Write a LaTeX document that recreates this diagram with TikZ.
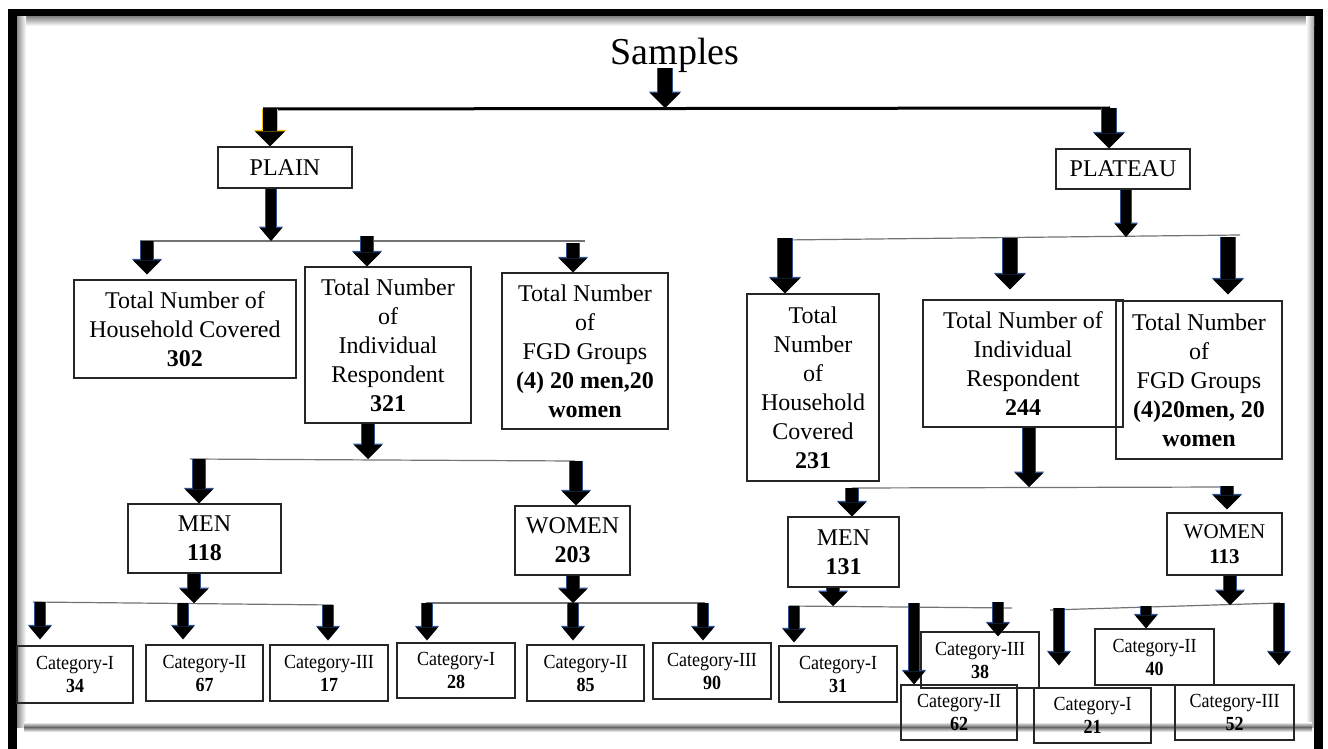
\documentclass[tikz,border=0pt]{standalone}
\usepackage{fontspec}
\setmainfont{Liberation Serif}
\newfontfamily\catfont{Liberation Serif}[FakeStretch=0.9]
\usetikzlibrary{arrows.meta}

\definecolor{arrowedge}{RGB}{47,82,143}
\definecolor{goldedge}{RGB}{255,192,0}

\tikzset{
  box/.style={draw=black!85, line width=0.7pt, align=center, inner sep=1pt, font=\fontsize{12}{14.5}\selectfont},
  catbox/.style={box, font=\catfont\fontsize{10}{11.5}\selectfont},
  branch/.style={draw=black!55, line width=0.6pt},
  bigarrow/.style={line width=7pt, -{Triangle[width=15pt,length=7.5pt,line width=0pt]},
    preaction={draw=#1, line width=7.8pt, -{Triangle[width=16.2pt,length=8.2pt,line width=0pt]}}},
  bigarrow/.default=arrowedge,
  midarrow/.style={line width=6pt, -{Triangle[width=14pt,length=7pt,line width=0pt]},
    preaction={draw=arrowedge, line width=6.8pt, -{Triangle[width=15.2pt,length=7.7pt,line width=0pt]}}},
  thinarrow/.style={line width=5pt, -{Triangle[width=11pt,length=6.5pt,line width=0pt]},
    preaction={draw=arrowedge, line width=5.8pt, -{Triangle[width=12.2pt,length=7.2pt,line width=0pt]}}}
}

\begin{document}
\begin{tikzpicture}[x=0.5pt,y=-0.5pt]
\useasboundingbox (0,0) rectangle (1328,749);

% frame with its shadow
\fill[black] (8,9) rectangle (1323,17);
\fill[black] (8,9) rectangle (17,749);
\fill[black] (1314,9) rectangle (1323,749);
\shade[top color=black!45, bottom color=white] (17,17) rectangle (1314,26);
\shade[left color=black!45, right color=white] (17,17) rectangle (26,727);
\shade[left color=white, right color=black!35] (1306,17) rectangle (1314,727);
\shade[top color=white, bottom color=white, middle color=black!60] (24,722) rectangle (1312,732);

\node[font=\fontsize{19}{22}\selectfont, anchor=base, inner sep=0pt] (samples) at (675,65) {Samples};

\node[box, minimum width=67pt, minimum height=20.5pt] (plain) at (285,167.5) {PLAIN};
\node[box, minimum width=67pt, minimum height=20pt] (plateau) at (1123,169) {PLATEAU};

%%%%%%%%%%%%%%% plain
\node[box, minimum width=111pt, minimum height=49pt] (plainHH) at (185,329) {Total Number of\\Household Covered\\\textbf{302}};
\node[box, minimum width=83pt, minimum height=78pt] (plainIR) at (388,345) {Total Number\\of\\Individual\\Respondent\\\textbf{321}};
\node[box, minimum width=83pt, minimum height=78pt] (plainFGD) at (585,351) {Total Number\\of\\FGD Groups\\\textbf{(4) 20 men,20}\\\textbf{women}};

\node[box, minimum width=76.5pt, minimum height=34.5pt] (plainMen) at (204.5,538.5) {MEN\\\textbf{118}};
\node[box, minimum width=57.5pt, minimum height=34.5pt] (plainWomen) at (572.5,540.5) {WOMEN\\\textbf{203}};

\node[catbox, minimum width=58pt, minimum height=28.5pt] (pm1) at (75,674.5) {Category-I\\\textbf{34}};
\node[catbox, minimum width=58.5pt, minimum height=28pt] (pm2) at (204.5,673) {Category-II\\\textbf{67}};
\node[catbox, minimum width=59pt, minimum height=28pt] (pm3) at (329,673) {Category-III\\\textbf{17}};
\node[catbox, minimum width=59pt, minimum height=27.5pt] (pw1) at (456,670.5) {Category-I\\\textbf{28}};
\node[catbox, minimum width=58.5pt, minimum height=28pt] (pw2) at (585.5,673) {Category-II\\\textbf{85}};
\node[catbox, minimum width=59pt, minimum height=28pt] (pw3) at (712,671) {Category-III\\\textbf{90}};

%%%%%%%%%%%%%%% plateau
\node[box, minimum width=66pt, minimum height=93.5pt] (platHH) at (813,387.5) {Total\\Number\\of\\Household\\Covered\\\textbf{231}};
\node[box, minimum width=100pt, minimum height=63.5pt] (platIR) at (1023,363.5) {Total Number of\\Individual\\Respondent\\\textbf{244}};
\node[box, minimum width=83pt, minimum height=79pt] (platFGD) at (1199,380) {Total Number\\of\\FGD Groups\\\textbf{(4)20men, 20}\\\textbf{women}};

\node[box, minimum width=55.5pt, minimum height=35pt] (platMen) at (843.5,552) {MEN\\\textbf{131}};
\node[box, minimum width=57.5pt, minimum height=31pt, font=\fontsize{10.5}{12.5}\selectfont] (platWomen) at (1224.5,544) {WOMEN\\\textbf{113}};

\node[catbox, minimum width=59pt, minimum height=28pt] (qm1) at (838,674) {Category-I\\\textbf{31}};
\node[catbox, minimum width=59pt, minimum height=28pt] (qm3) at (980,660) {Category-III\\\textbf{38}};
\node[catbox, minimum width=58pt, minimum height=27.5pt] (qm2) at (959,712.5) {Category-II\\\textbf{62}};
\node[catbox, minimum width=59.5pt, minimum height=28pt] (qw2) at (1154.5,657) {Category-II\\\textbf{40}};
\node[catbox, minimum width=58.5pt, minimum height=27.5pt] (qw1) at (1092.5,715.5) {Category-I\\\textbf{21}};
\node[catbox, minimum width=59.5pt, minimum height=27.5pt] (qw3) at (1234.5,712.5) {Category-III\\\textbf{52}};

%%%%%%%%%%%%%%% branch points
\coordinate (tl) at (263,109); \coordinate (tr) at (1110,108);
\coordinate (ts) at (665,108); \coordinate (tp) at (270,109); \coordinate (tq) at (1109,108);

\coordinate (pl) at (140,241); \coordinate (pr) at (585,241); \coordinate (pc) at (271,241);
\coordinate (p1) at (147,241); \coordinate (p2) at (367,236); \coordinate (p3) at (573,243);

\coordinate (ql) at (783,240); \coordinate (qr) at (1240,235); \coordinate (qc) at (1126,237);
\coordinate (q1) at (785,238); \coordinate (q2) at (1010,238); \coordinate (q3) at (1228,237);

\coordinate (ml) at (190,459); \coordinate (mr) at (575,461); \coordinate (mc) at (368,459);
\coordinate (m1) at (199,459); \coordinate (m2) at (576,461);

\coordinate (nl) at (852,488); \coordinate (nr) at (1227,487); \coordinate (nc) at (1029,487);
\coordinate (n1) at (852,488); \coordinate (n2) at (1227,486);

\coordinate (al) at (33,602); \coordinate (ar) at (333,605); \coordinate (ac) at (194,603);
\coordinate (a1) at (40,602); \coordinate (a2) at (183,603); \coordinate (a3) at (328,605);

\coordinate (bl) at (426,603); \coordinate (br) at (705,603); \coordinate (bc) at (573,603);
\coordinate (b1) at (427,603); \coordinate (b2) at (573,603); \coordinate (b3) at (703,603);

\coordinate (cl) at (789,606); \coordinate (cr) at (1012,608); \coordinate (cc) at (833,606);
\coordinate (c1) at (794,606); \coordinate (c2) at (914,603); \coordinate (c3) at (998,602);

\coordinate (dl) at (1050,610); \coordinate (dr) at (1280,603); \coordinate (dc) at (1230,605);
\coordinate (d1) at (1059,608); \coordinate (d2) at (1146,606); \coordinate (d3) at (1279,603);

%%%%%%%%%%%%%%% lines
\draw [line width=1.5pt] (tl) -- (tr);
\draw [branch] (pl) -- (pr);
\draw [branch] (ql) -- (qr);
\draw [branch] (ml) -- (mr);
\draw [branch] (nl) -- (nr);
\draw [branch] (al) -- (ar);
\draw [branch] (bl) -- (br);
\draw [branch] (cl) -- (cr);
\draw [branch] (dl) -- (dr);

%%%%%%%%%%%%%%% arrows
\draw [bigarrow] ([yshift=-1.5pt]ts |- samples.base) -- (ts);
\draw [bigarrow=goldedge] (tp) -- (tp |- plain.north);
\draw [bigarrow] (tq) -- (tq |- plateau.north);

\draw [thinarrow] (pc |- plain.south) -- (pc);
\draw [midarrow] (p1) -- ([yshift=2.5pt]p1 |- plainHH.north);
\draw [midarrow] (p2) -- (p2 |- plainIR.north);
\draw [midarrow] (p3) -- (p3 |- plainFGD.north);

\draw [thinarrow] (qc |- plateau.south) -- (qc);
\draw [bigarrow] (q1) -- (q1 |- platHH.north);
\draw [bigarrow] (q2) -- ([yshift=5pt]q2 |- platIR.north);
\draw [bigarrow] (q3) -- ([yshift=3pt]q3 |- platFGD.north);

\draw [midarrow] (mc |- plainIR.south) -- (mc);
\draw [midarrow] (m1) -- (m1 |- plainMen.north);
\draw [midarrow] (m2) -- (m2 |- plainWomen.north);

\draw [midarrow] (nc |- platIR.south) -- (nc);
\draw [midarrow] (n1) -- (n1 |- platMen.north);
\draw [midarrow] (n2) -- ([yshift=1.5pt]n2 |- platWomen.north);

\draw [midarrow] (ac |- plainMen.south) -- (ac);
\draw [thinarrow] (a1) -- ([yshift=3pt]a1 |- pm1.north);
\draw [thinarrow] (a2) -- ([yshift=2.5pt]a2 |- pm2.north);
\draw [thinarrow] (a3) -- ([yshift=2pt]a3 |- pm3.north);

\draw [midarrow] (bc |- plainWomen.south) -- (bc);
\draw [thinarrow] (b1) -- ([yshift=1pt]b1 |- pw1.north);
\draw [thinarrow] (b2) -- ([yshift=2pt]b2 |- pw2.north);
\draw [thinarrow] (b3) -- ([yshift=1pt]b3 |- pw3.north);

\draw [midarrow] (cc |- platMen.south) -- (cc);
\draw [thinarrow] (c1) -- ([yshift=1.5pt]c1 |- qm1.north);
\draw [thinarrow] (c2) -- (c2 |- qm2.north);
\draw [thinarrow] (c3) -- ([yshift=-2.5pt]c3 |- qm3.north);

\draw [midarrow] (dc |- platWomen.south) -- (dc);
\draw [thinarrow] (d1) -- ([yshift=11pt]d1 |- qw1.north);
\draw [thinarrow] (d2) -- (d2 |- qw2.north);
\draw [thinarrow] (d3) -- ([yshift=9.5pt]d3 |- qw3.north);

\end{tikzpicture}
\end{document}
